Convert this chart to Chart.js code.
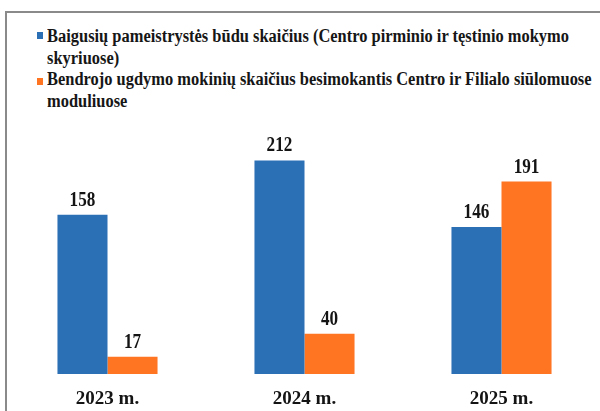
<!DOCTYPE html>
<html>
<head>
<meta charset="utf-8">
<script src="https://cdn.jsdelivr.net/npm/chart.js@4/dist/chart.umd.min.js"></script>
<style>
  html, body { margin: 0; padding: 0; background: #ffffff; }
  #wrap { position: relative; width: 600px; height: 411px; overflow: hidden; background: #ffffff; }
  #frame { position: absolute; left: 5px; top: 11px; width: 640px; height: 460px; border: 2px solid #8a8a8a; box-sizing: border-box; }
  #chart { position: absolute; left: 0; top: 0; }
  .legend { position: absolute; left: 0; top: 0; font-family: "Liberation Serif", "Times New Roman", serif; font-weight: bold; font-size: 18px; line-height: 22px; color: #161616; }
  .item { position: absolute; left: 47px; white-space: nowrap; transform-origin: 0 0; }
  .swatch { position: absolute; width: 6px; height: 7px; }
</style>
</head>
<body>
<div id="wrap">
  <div id="frame"></div>
  <div class="legend" id="legend"></div>
  <canvas id="chart" width="600" height="411"></canvas>
</div>
<script>
const categories = ['2023 m.', '2024 m.', '2025 m.'];
const seriesNames = [
  ['Baigusių pameistrystės būdu skaičius (Centro pirminio ir tęstinio mokymo', 'skyriuose)'],
  ['Bendrojo ugdymo mokinių skaičius besimokantis Centro ir Filialo siūlomuose', 'moduliuose']
];
const apprenticeshipGraduates = [158, 212, 146];
const generalEducationStudents = [17, 40, 191];
const seriesColors = ['#2b6fb5', '#ff7522'];

// HTML legend (two-line wrapped entries)
const legendEl = document.getElementById('legend');
const itemTops = [24.5, 68];
const swatchTops = [32, 78];
seriesNames.forEach((lines, i) => {
  const sw = document.createElement('div');
  sw.className = 'swatch';
  sw.style.left = '37px';
  sw.style.top = swatchTops[i] + 'px';
  sw.style.background = seriesColors[i];
  legendEl.appendChild(sw);
  const it = document.createElement('div');
  it.className = 'item';
  it.style.top = itemTops[i] + 'px';
  it.innerHTML = lines.map(l => '<div>' + l + '</div>').join('');
  legendEl.appendChild(it);
});
// fit first line width to reference (~522px)
const firstItem = legendEl.querySelector('.item');
const natural = firstItem.firstChild.getBoundingClientRect().width;
const sx = 522 / natural;
legendEl.querySelectorAll('.item').forEach(el => { el.style.transform = 'scaleX(' + sx + ')'; });

const dataLabels = {
  id: 'dataLabels',
  afterDatasetsDraw(chart) {
    const ctx = chart.ctx;
    chart.data.datasets.forEach((ds, i) => {
      const meta = chart.getDatasetMeta(i);
      meta.data.forEach((bar, j) => {
        ctx.save();
        ctx.translate(bar.x, bar.y - 9);
        ctx.scale(0.78, 1);
        ctx.font = 'bold 22px "Liberation Serif"';
        ctx.textAlign = 'center';
        ctx.textBaseline = 'alphabetic';
        ctx.fillStyle = '#141414';
        ctx.fillText(String(ds.data[j]), 0, 0);
        ctx.restore();
      });
    });
  }
};

new Chart(document.getElementById('chart'), {
  type: 'bar',
  data: {
    labels: categories,
    datasets: [
      { label: seriesNames[0].join(' '), data: apprenticeshipGraduates, backgroundColor: seriesColors[0], barPercentage: 1.0, categoryPercentage: 0.508 },
      { label: seriesNames[1].join(' '), data: generalEducationStudents, backgroundColor: seriesColors[1], barPercentage: 1.0, categoryPercentage: 0.508 }
    ]
  },
  options: {
    responsive: false,
    animation: false,
    devicePixelRatio: 1,
    layout: { padding: { top: 110, left: 9, right: 0, bottom: 0 } },
    plugins: { legend: { display: false }, tooltip: { enabled: false } },
    scales: {
      x: {
        grid: { display: false, drawTicks: false },
        border: { display: false },
        ticks: { color: '#141414', padding: 14, font: { family: 'Liberation Serif', weight: 'bold', size: 19 } },
        afterFit(scale) { scale.height = 37; }
      },
      y: { display: false, min: 0, max: 262 }
    }
  },
  plugins: [dataLabels]
});
</script>
</body>
</html>
